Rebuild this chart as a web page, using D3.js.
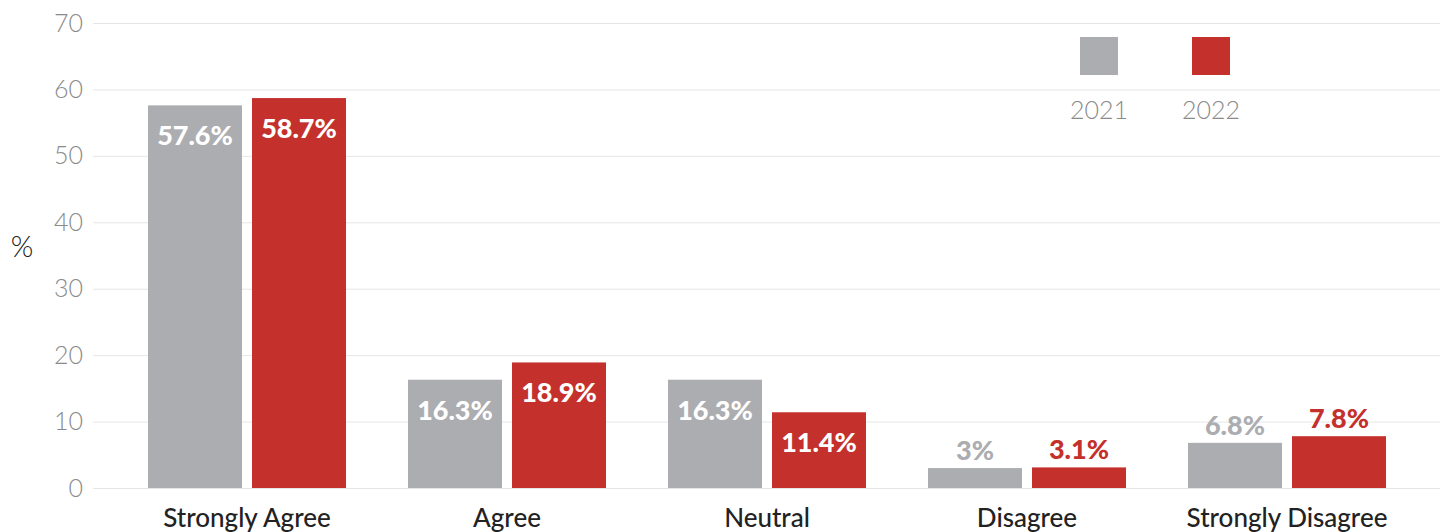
<!DOCTYPE html>
<html><head><meta charset="utf-8">
<script src="https://cdn.jsdelivr.net/npm/d3@7"></script>
<style>body{margin:0;background:#fff;overflow:hidden}svg{display:block}</style>
</head><body>
<svg id="c" width="1440" height="532"></svg>
<script>
const categories = ["Strongly Agree","Agree","Neutral","Disagree","Strongly Disagree"];
const seriesNames = ["2021","2022"];
const values2021 = [57.6,16.3,16.3,3,6.8];
const values2022 = [58.7,18.9,11.4,3.1,7.8];
const labels2021 = ["57.6%","16.3%","16.3%","3%","6.8%"];
const labels2022 = ["58.7%","18.9%","11.4%","3.1%","7.8%"];
const yTicks = [0,10,20,30,40,50,60,70];
const colors = ["#acadb0","#c4302b"];

const svg = d3.select("#c");
const font = "Lato, 'Open Sans', sans-serif";
const y = d3.scaleLinear().domain([0,70]).range([488,23]);
const x0 = d3.scaleBand().domain(categories).range([117,1417]).paddingInner(0).paddingOuter(0);
const x1 = d3.scaleBand().domain(seriesNames).range([31,229]).paddingInner(10/104);

// grid
const yAxis = d3.axisLeft(y).tickValues(yTicks).tickSize(-(1440-93)).tickPadding(10);
const g = svg.append("g").attr("transform","translate(93,0)").call(yAxis);
g.select(".domain").remove();
g.selectAll(".tick line").attr("stroke","#e6e6e6").attr("stroke-width",1);
g.selectAll(".tick text").attr("fill","#8a8a8a").attr("font-family",font).attr("font-weight",300).attr("font-size",25).attr("x",-10);

svg.append("text").attr("x",22).attr("y",257).attr("text-anchor","middle")
  .attr("font-family",font).attr("font-size",29).attr("font-weight",300).attr("fill","#222").text("%");

const data = categories.map((c,i)=>({cat:c, vals:[
  {s:"2021", v:values2021[i], l:labels2021[i], c:colors[0]},
  {s:"2022", v:values2022[i], l:labels2022[i], c:colors[1]}]}));

const grp = svg.selectAll(".grp").data(data).join("g").attr("transform",d=>`translate(${x0(d.cat)},0)`);
grp.selectAll("rect").data(d=>d.vals).join("rect")
  .attr("x",d=>x1(d.s)).attr("width",x1.bandwidth())
  .attr("y",d=>y(d.v)).attr("height",d=>y(0)-y(d.v)).attr("fill",d=>d.c);
grp.selectAll("text.v").data(d=>d.vals).join("text").attr("class","v")
  .attr("x",d=>x1(d.s)+x1.bandwidth()/2)
  .attr("y",d=>d.v>=10 ? y(d.v)+40 : y(d.v)-8)
  .attr("text-anchor","middle").attr("font-family",font).attr("font-weight",900).attr("font-size",27)
  .attr("fill",d=>d.v>=10 ? "#fff" : d.c).text(d=>d.l);

// x labels
const xAxis = d3.axisBottom(x0).tickSize(0).tickPadding(0);
const xa = svg.append("g").attr("transform","translate(0,488)").call(xAxis);
xa.select(".domain").remove();
xa.selectAll(".tick text").attr("fill","#222").attr("font-family",font).attr("font-weight",500).attr("font-size",26).attr("dy",0).attr("y",39);

// legend
const lx = d3.scaleOrdinal().domain(seriesNames).range([1099,1211]);
const lg = svg.selectAll(".lg").data(seriesNames).join("g").attr("transform",d=>`translate(${lx(d)},0)`);
lg.append("rect").attr("x",-19).attr("y",37).attr("width",38).attr("height",38).attr("fill",(d,i)=>colors[i]);
lg.append("text").attr("y",119).attr("text-anchor","middle").attr("font-family",font).attr("font-weight",300).attr("font-size",25).attr("fill","#8a8a8a").text(d=>d);
</script>
</body></html>
